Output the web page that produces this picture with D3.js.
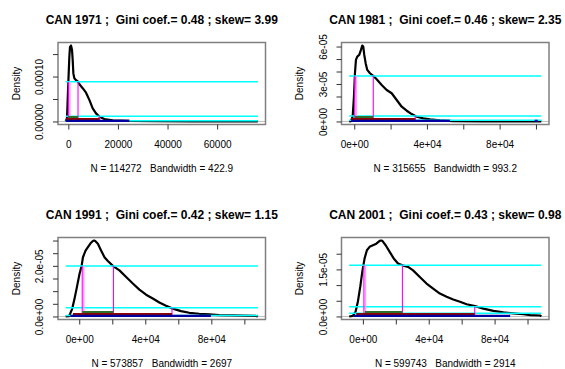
<!DOCTYPE html>
<html>
<head>
<meta charset="utf-8">
<script src="https://cdn.jsdelivr.net/npm/d3@7"></script>
<style>
  body { margin: 0; background: #fff; }
  text { font-family: "Liberation Sans", Arial, sans-serif; }
</style>
</head>
<body>
<svg id="chart" width="565" height="369"></svg>
<script>
// values
const years = [1971, 1981, 1991, 2001];
const gini = ["0.48", "0.46", "0.42", "0.43"];
const skew = ["3.99", "2.35", "1.15", "0.98"];
const sampleN = [114272, 315655, 573857, 599743];
const bandwidth = ["422.9", "993.2", "2697", "2914"];

// kernel density estimates: [income, density]
const density1971 = [[-1063, 0], [-524, 7.1e-6], [-121, 7.0e-5], [149, 1.07e-4], [415, 1.44e-4], [685, 1.66e-4],
  [1089, 1.69e-4], [1492, 1.59e-4], [1760, 1.37e-4], [2030, 1.07e-4], [2430, 9.6e-5], [3100, 9.2e-5],
  [3910, 8.85e-5], [4720, 8.1e-5], [5790, 7.4e-5], [7140, 6.4e-5], [8480, 4.8e-5], [9830, 2.9e-5],
  [11170, 1.8e-5], [12510, 1.07e-5], [14530, 5.5e-6], [17890, 2.6e-6], [24610, 1.2e-6], [35000, 5e-7],
  [50000, 2e-7], [76400, 0]];
const density1981 = [[-2787, 0], [-1820, 3e-7], [-880, 3.8e-6], [-165, 1.98e-5], [385, 3.86e-5], [937, 4.93e-5],
  [1650, 5.2e-5], [2750, 5.33e-5], [3690, 5.73e-5], [4410, 6.08e-5], [4960, 6.0e-5], [5510, 5.33e-5],
  [6280, 4.67e-5], [7160, 4.13e-5], [8650, 3.86e-5], [10470, 3.65e-5], [12340, 3.38e-5], [15100, 2.92e-5],
  [17850, 2.52e-5], [20600, 2.26e-5], [23360, 1.72e-5], [26120, 1.18e-5], [28870, 8.6e-6], [31620, 5.9e-6],
  [34380, 3.8e-6], [38010, 2.5e-6], [41700, 1.7e-6], [47200, 9e-7], [54540, 3e-7], [70000, 1e-7], [102950, 0]];
const density1991 = [[-8215, 0], [-6220, 1e-7], [-5440, 1.2e-6], [-4230, 3.1e-6], [-2840, 7.1e-6], [-1390, 1.17e-5],
  [180, 1.69e-5], [1390, 1.98e-5], [2240, 2.34e-5], [3810, 2.6e-5], [5250, 2.74e-5], [6830, 2.89e-5],
  [8270, 2.98e-5], [9000, 3.0e-5], [9670, 2.98e-5], [11280, 2.87e-5], [13290, 2.6e-5], [15290, 2.34e-5],
  [17320, 2.19e-5], [20720, 1.98e-5], [24350, 1.82e-5], [28400, 1.56e-5], [32440, 1.3e-5], [36430, 1.06e-5],
  [40480, 8.6e-6], [44530, 7.1e-6], [48520, 5.5e-6], [52570, 4.2e-6], [56620, 3.1e-6], [61630, 2.1e-6],
  [66650, 1.45e-6], [72700, 1.06e-6], [78730, 8e-7], [84770, 5e-7], [92870, 4e-7], [106950, 2e-7], [108155, 0]];
const density2001 = [[-8320, 0], [-6100, 2e-7], [-4450, 1.5e-6], [-3050, 4.7e-6], [-1590, 9.5e-6], [-370, 1.42e-5],
  [1040, 1.85e-5], [2440, 2.11e-5], [4090, 2.22e-5], [6100, 2.27e-5], [8170, 2.32e-5], [10180, 2.41e-5],
  [11000, 2.42e-5], [11830, 2.41e-5], [13840, 2.27e-5], [16280, 2.06e-5], [18720, 1.85e-5], [21340, 1.69e-5],
  [24020, 1.63e-5], [27440, 1.58e-5], [30490, 1.47e-5], [34570, 1.26e-5], [38660, 1.05e-5], [42680, 8.9e-6],
  [46770, 7.3e-6], [50850, 6.3e-6], [54880, 5.4e-6], [58960, 4.7e-6], [63050, 3.9e-6], [68110, 3.3e-6],
  [73170, 2.5e-6], [79270, 1.8e-6], [85370, 1.3e-6], [91460, 1.0e-6], [97560, 7e-7], [101650, 4e-7],
  [107750, 3e-7], [108380, 0]];
const densities = [density1971, density1981, density1991, density2001];

// horizontal reference levels (density) and cut points (income)
const cyanLevels = [[8.85e-5, 1.15e-5, 1.5e-6], [3.65e-5, 4.3e-6, 9e-7], [1.99e-5, 3.4e-6, 4e-7], [1.63e-5, 3.1e-6, 1.0e-6]];
const cutPoints = [[0, 3910, 12600], [250, 10470, 33600], [1810, 20720, 56190], [610, 24020, 67930]];
const greenBars = [[0, 3910], [250, 10470], [1810, 20720], [1220, 24020]];
const redBars = [[-930, 12600], [-1820, 33600], [-3810, 56190], [-4020, 67930]];
const blueBars = [[-930, 24600], [-1820, 52700], [-5440, 79760], [-5670, 89450]];
const outlierBars = [null, [99300, 101000], null, null];

const xTicks = [[0, 20000, 40000, 60000], [0, 2e4, 4e4, 6e4, 8e4, 1e5], [0, 2e4, 4e4, 6e4, 8e4, 1e5], [0, 2e4, 4e4, 6e4, 8e4, 1e5]];
const xTickLabels = [["0", "20000", "40000", "60000"], ["0e+00", "", "4e+04", "", "8e+04", ""],
  ["0e+00", "", "4e+04", "", "8e+04", ""], ["0e+00", "", "4e+04", "", "8e+04", ""]];
const yTicks = [[0, 5e-5, 1e-4, 1.5e-4], [0, 1e-5, 2e-5, 3e-5, 4e-5, 5e-5, 6e-5],
  [0, 5e-6, 1e-5, 1.5e-5, 2e-5, 2.5e-5, 3e-5], [0, 5e-6, 1e-5, 1.5e-5, 2e-5]];
const yTickLabels = [["0.00000", "", "0.00010", ""], ["0e+00", "", "", "3e-05", "", "", "6e-05"],
  ["0.0e+00", "", "", "", "2.0e-05", "", ""], ["0.0e+00", "", "", "1.5e-05", ""]];

// layout
const panelX = [0, 283.5, 0, 283.5];
const panelY = [0, 0, 195, 195];
const nLabelY = [172, 172, 367, 367];
const box = { left: 58, right: 265.5, top: 42.5, bottom: 124.5 };

const svg = d3.select("#chart");
svg.append("rect").attr("width", 565).attr("height", 369).attr("fill", "#fff");

years.forEach((year, i) => {
  const g = svg.append("g").attr("transform", `translate(${panelX[i]},${panelY[i]})`);
  const curve = densities[i];

  // R style: 4% padding around the data range
  const [x0, x1] = d3.extent(curve, d => d[0]);
  const ymax = d3.max(curve, d => d[1]);
  const xpad = (x1 - x0) * 0.04;
  const x = d3.scaleLinear().domain([x0 - xpad, x1 + xpad]).range([box.left, box.right]);
  const y = d3.scaleLinear().domain([-0.04 * ymax, 1.04 * ymax]).range([box.bottom, box.top]);

  const clipId = "clip" + i;
  g.append("clipPath").attr("id", clipId).append("rect")
    .attr("x", box.left).attr("y", box.top)
    .attr("width", box.right - box.left).attr("height", box.bottom - box.top);

  const plot = g.append("g").attr("clip-path", `url(#${clipId})`);

  // zero line
  plot.append("line")
    .attr("x1", box.left).attr("x2", box.right)
    .attr("y1", y(0)).attr("y2", y(0))
    .attr("stroke", "#bebebe").attr("stroke-width", 1);

  // density curve
  plot.append("path")
    .datum(curve)
    .attr("fill", "none")
    .attr("stroke", "#000")
    .attr("stroke-width", 2.2)
    .attr("stroke-linejoin", "round")
    .attr("d", d3.line().x(d => x(d[0])).y(d => y(d[1])));

  // cyan levels across the density range
  plot.selectAll(".cyan")
    .data(cyanLevels[i])
    .enter().append("line")
    .attr("class", "cyan")
    .attr("x1", x(x0)).attr("x2", x(x1))
    .attr("y1", d => y(d)).attr("y2", d => y(d))
    .attr("stroke", "#00ffff")
    .attr("stroke-width", 1.5);

  // magenta cut lines
  const cuts = cutPoints[i];
  const lev = cyanLevels[i];
  const cutTops = [lev[0], lev[0], lev[1]];
  // pale companion line beside the first cut
  plot.append("line")
    .attr("x1", x(cuts[0]) + 1.5).attr("x2", x(cuts[0]) + 1.5)
    .attr("y1", y(0)).attr("y2", y(lev[0]))
    .attr("stroke", "#ff9cff").attr("stroke-width", 1.5);
  plot.selectAll(".cut")
    .data(cuts)
    .enter().append("line")
    .attr("class", "cut")
    .attr("x1", d => x(d)).attr("x2", d => x(d))
    .attr("y1", y(0)).attr("y2", (d, k) => y(cutTops[k]))
    .attr("stroke", "#ff00ff").attr("stroke-width", 1.1);

  // horizontal bars near the baseline
  const bars = [
    { r: greenBars[i], color: "#2d6e2d", off: 4.4 },
    { r: redBars[i], color: "#8b0000", off: 2.3 },
    { r: blueBars[i], color: "#0000a0", off: 0.6 }
  ];
  if (outlierBars[i]) bars.push({ r: outlierBars[i], color: "#0000a0", off: 0.6 });
  plot.selectAll(".bar")
    .data(bars)
    .enter().append("line")
    .attr("class", "bar")
    .attr("x1", d => x(d.r[0])).attr("x2", d => x(d.r[1]))
    .attr("y1", d => y(0) - d.off).attr("y2", d => y(0) - d.off)
    .attr("stroke", d => d.color)
    .attr("stroke-width", 2.3);

  // box
  g.append("rect")
    .attr("x", box.left).attr("y", box.top)
    .attr("width", box.right - box.left).attr("height", box.bottom - box.top)
    .attr("fill", "none").attr("stroke", "#808080").attr("stroke-width", 1.5);

  // x axis
  const xa = g.append("g")
    .attr("transform", `translate(0,${box.bottom})`)
    .call(d3.axisBottom(x).tickValues(xTicks[i]).tickFormat((d, k) => xTickLabels[i][k]).tickSize(5));
  xa.select(".domain").remove();
  xa.selectAll("line").attr("stroke", "#333");
  xa.selectAll("text").attr("y", 23.5).attr("dy", null)
    .attr("font-size", 10).attr("font-family", "Liberation Sans, Arial, sans-serif").attr("fill", "#000");

  // y axis with rotated labels
  const ya = g.append("g")
    .attr("transform", `translate(${box.left},0)`)
    .call(d3.axisLeft(y).tickValues(yTicks[i]).tickFormat((d, k) => yTickLabels[i][k]).tickSize(5));
  ya.select(".domain").remove();
  ya.selectAll("line").attr("stroke", "#333");
  ya.selectAll("text")
    .attr("x", 0).attr("y", -15).attr("dy", null)
    .attr("transform", "rotate(-90)")
    .attr("text-anchor", "middle")
    .attr("font-size", 10).attr("font-family", "Liberation Sans, Arial, sans-serif").attr("fill", "#000");

  // titles and labels
  const cx = (box.left + box.right) / 2;
  g.append("text")
    .attr("x", cx).attr("y", 23.5)
    .attr("text-anchor", "middle")
    .attr("font-size", 12).attr("font-weight", "bold")
    .style("white-space", "pre")
    .text(`CAN ${year} ;  Gini coef.= ${gini[i]} ; skew= ${skew[i]}`);

  g.append("text")
    .attr("transform", `translate(19.5,${(box.top + box.bottom) / 2}) rotate(-90)`)
    .attr("text-anchor", "middle")
    .attr("font-size", 10)
    .text("Density");

  g.append("text")
    .attr("x", cx).attr("y", nLabelY[i] - panelY[i])
    .attr("text-anchor", "middle")
    .attr("font-size", 10)
    .style("white-space", "pre")
    .text(`N = ${sampleN[i]}   Bandwidth = ${bandwidth[i]}`);
});
</script>
</body>
</html>
